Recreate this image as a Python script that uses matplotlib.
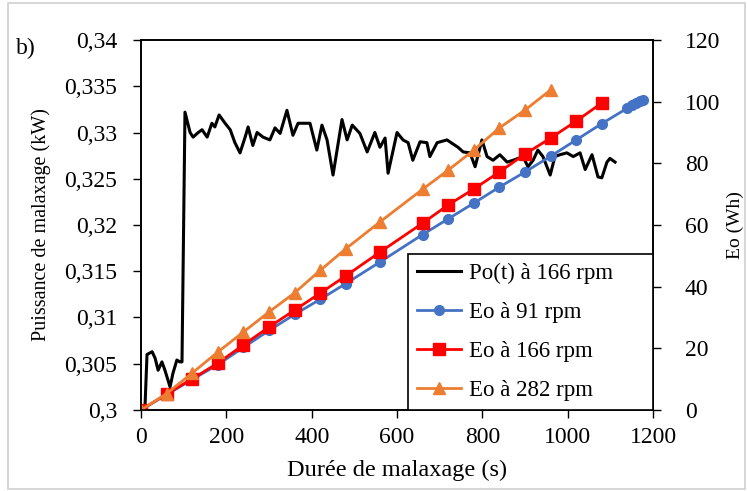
import matplotlib
matplotlib.use("Agg")
import matplotlib.pyplot as plt
from matplotlib.patches import Rectangle

plt.rcParams['font.family'] = ['Liberation Serif', 'DejaVu Serif']

# Po(t) at 166 rpm (s, kW)
t_po = [5, 9, 14, 26, 33, 40, 49, 56, 68, 75, 84, 91, 96, 103, 115, 122, 134, 143,
        155, 166, 173, 183, 197, 209, 220, 232, 244, 251, 262, 272, 286, 302,
        314, 326, 342, 356, 368, 396, 412, 424, 436, 450, 471, 483, 495, 513,
        530, 548, 560, 572, 579, 600, 614, 626, 637, 654, 670, 677, 694, 717,
        743, 755, 771, 783, 799, 811, 825, 841, 858, 872, 895, 907, 919, 930,
        942, 959, 970, 982, 998, 1013, 1029, 1041, 1057, 1071, 1080, 1092,
        1099, 1111]
po = [0.3000, 0.3000, 0.3060, 0.3063, 0.3056, 0.3043, 0.3052, 0.3043, 0.3025, 0.3040,
      0.3054, 0.3052, 0.3052, 0.3322, 0.3300, 0.3295, 0.3300, 0.3303,
      0.3295, 0.3310, 0.3306, 0.3319, 0.3310, 0.3303, 0.3289, 0.3278, 0.3295,
      0.3306, 0.3286, 0.3300, 0.3295, 0.3292, 0.3305, 0.3299, 0.3324, 0.3297,
      0.3310, 0.3310, 0.3281, 0.3308, 0.3292, 0.3254, 0.3314, 0.3292, 0.3308,
      0.3299, 0.3279, 0.3300, 0.3284, 0.3294, 0.3256, 0.3300, 0.3292, 0.3289,
      0.3270, 0.3290, 0.3289, 0.3274, 0.3289, 0.3292, 0.3284, 0.3279, 0.3278,
      0.3263, 0.3292, 0.3274, 0.3270, 0.3276, 0.3268, 0.3270, 0.3274, 0.3263,
      0.3270, 0.3281, 0.3274, 0.3254, 0.3274, 0.3276, 0.3278, 0.3274, 0.3278,
      0.3260, 0.3276, 0.3252, 0.3251, 0.3268, 0.3272, 0.3268]

# Eo (Wh)
t_91 = [0, 60, 120, 180, 240, 300, 360, 420, 480, 560, 660, 720, 780, 840, 900,
        960, 1020, 1080, 1140, 1150, 1160, 1170, 1176]
eo_91 = [0, 5.0, 9.9, 14.7, 20.3, 25.8, 31.0, 35.9, 41.0, 48.0, 56.9, 62.0, 67.1,
         72.3, 77.2, 82.3, 87.6, 92.9, 97.9, 98.9, 99.6, 100.2, 100.5]

t_166 = [0, 60, 120, 180, 240, 300, 360, 420, 480, 560, 660, 720, 780, 840, 900,
         960, 1020, 1080]
eo_166 = [0, 5.2, 10.1, 15.2, 21.1, 26.9, 32.4, 37.9, 43.5, 51.2, 60.6, 66.5, 71.7,
          77.2, 83.0, 88.2, 93.7, 99.6]

t_282 = [0, 60, 120, 180, 240, 300, 360, 420, 480, 560, 660, 720, 780, 840, 900, 960]
eo_282 = [0, 5.3, 12.0, 18.8, 25.3, 31.8, 38.0, 45.3, 52.3, 61.0, 71.6, 77.8, 84.3,
          91.5, 97.3, 103.8]

left_ticks = [0.3, 0.305, 0.31, 0.315, 0.32, 0.325, 0.33, 0.335, 0.34]
left_labels = ['0,3', '0,305', '0,31', '0,315', '0,32', '0,325', '0,33', '0,335', '0,34']
x_ticks = [0, 200, 400, 600, 800, 1000, 1200]
right_ticks = [0, 20, 40, 60, 80, 100, 120]

fs_tick = 17
fs_leg = 16.5

fig = plt.figure(figsize=(7.47, 4.91), dpi=100)
ax = fig.add_axes([0.1888, 0.165, 0.6854, 0.7535])
ax2 = ax.twinx()

l0, = ax.plot(t_po, po, color='black', lw=2.2, label='Po(t) à 166 rpm', zorder=3)
l1, = ax2.plot(t_91, eo_91, color='#4472C4', lw=2, marker='o', ms=7,
               label='Eo à 91 rpm')
l2, = ax2.plot(t_166, eo_166, color='#FF0000', lw=2, marker='s', ms=8.5,
               label='Eo à 166 rpm')
l3, = ax2.plot(t_282, eo_282, color='#ED7D31', lw=2, marker='^', ms=8.5,
               label='Eo à 282 rpm')

ax.set_xlim(0, 1200)
ax.set_ylim(0.3, 0.34)
ax2.set_ylim(0, 120)
ax.set_xticks(x_ticks)
ax.set_yticks(left_ticks)
ax.set_yticklabels(left_labels)
ax2.set_yticks(right_ticks)

ax.tick_params(axis='y', labelsize=fs_tick, length=6, width=1,
               direction='out', pad=11)
ax2.tick_params(axis='y', labelsize=fs_tick, length=6, width=1,
                direction='out', pad=17)
ax.tick_params(axis='x', labelsize=fs_tick, length=6, width=1,
               direction='out', pad=6)
for a in (ax, ax2):
    for s in a.spines.values():
        s.set_linewidth(1.2)

ax.set_xlabel('Durée de malaxage (s)', fontsize=17.5, labelpad=9)
ax.set_ylabel('Puissance de malaxage (kW)', fontsize=14.5, labelpad=10)

# right-hand label, kept just inside the figure edge
fig.text(735 / 747, 1 - 225 / 491, 'Eo (Wh)', fontsize=14, rotation=90,
         ha='center', va='center')

x0 = 0.5215
leg = ax2.legend(handles=[l0, l1, l2, l3], loc='lower left',
                 bbox_to_anchor=(x0, 0.0, 1.0 - x0, 0.4), mode='expand',
                 fontsize=fs_leg, frameon=True,
                 fancybox=False, framealpha=1, edgecolor='black',
                 handlelength=1.9, handletextpad=0.35, labelspacing=0.78,
                 borderpad=0.4, borderaxespad=0)
leg.get_frame().set_linewidth(1.2)
leg.set_zorder(10)

fig.text(0.022, 0.89, 'b)', fontsize=17)

fig.patches.append(Rectangle((0.011, 0.004), 0.986, 0.99, transform=fig.transFigure,
                             fill=False, edgecolor='#d0d0d0', lw=1.2))

fig.savefig('out.png', dpi=100)
